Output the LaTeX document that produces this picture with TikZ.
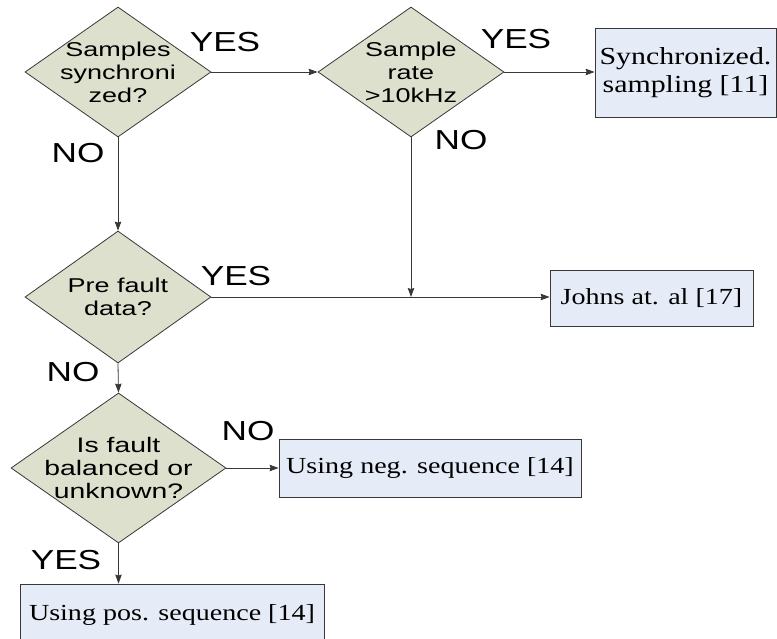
\documentclass[tikz,border=0pt]{standalone}
\usepackage{fontspec}
\usetikzlibrary{shapes.geometric,arrows.meta}
\newfontfamily\qfont{Liberation Sans}[FakeStretch=1.35]
\newfontfamily\tagfont{Liberation Sans}[FakeStretch=1.28]
\newfontfamily\refont{Liberation Serif}[FakeStretch=1.22]
\definecolor{qfill}{RGB}{221,224,204}
\definecolor{bfill}{RGB}{230,236,247}
\definecolor{edge}{RGB}{56,56,56}
\tikzset{
  decision/.style={diamond, draw=edge, line width=0.8pt, fill=qfill, inner sep=0pt, minimum width=186pt, minimum height=130pt},
  qtext/.style={align=center, inner sep=0pt, font=\qfont\fontsize{20}{23}\selectfont},
  result/.style={rectangle, draw=edge, line width=0.8pt, fill=bfill, inner sep=0pt, align=center, font=\refont\fontsize{23}{28}\selectfont},
  tag/.style={inner sep=0pt, font=\tagfont\fontsize{27.5}{30}\selectfont},
  flow/.style={draw=edge, line width=0.8pt, -{Stealth[length=9pt,width=6.5pt,inset=1pt]}}
}
\begin{document}
\begin{tikzpicture}[x=1pt,y=-1pt]
\useasboundingbox (0,0) rectangle (777,639);
\begin{scope}
\clip (0,0) rectangle (777,639);

% decisions
\node[decision] (d1) at (118,72) {};
\node[qtext] (t1) at (d1.center) {Samples\\synchroni\\zed?};
\node[decision] (d2) at (411,72) {};
\node[qtext] (t2) at (d2.center) {Sample\\rate\\>10kHz};
\node[decision, minimum height=132pt] (d3) at (118,297) {};
\node[qtext] (t3) at (d3.center) {Pre fault\\data?};
\node[decision, minimum width=215pt, minimum height=150pt] (d4) at (118.5,468) {};
\node[qtext, font=\qfont\fontsize{21}{23}\selectfont] (t4) at (d4.center) {Is fault\\balanced or\\unknown?};

% results
\node[result, minimum width=181pt, minimum height=89pt, font=\refont\fontsize{24.5}{28}\selectfont] (b1) at (685.5,72.5) {Synchronized.\\sampling [11]};
\node[result, minimum width=203pt, minimum height=56pt] (b2) at (651.5,298) {Johns at. al [17]};
\node[result, minimum width=302pt, minimum height=58pt] (b3) at (430,468) {Using neg. sequence [14]};
\node[result, minimum width=304pt, minimum height=62pt] (b4) at (172,615) {Using pos. sequence [14]};

% connectors
\coordinate (j) at (d2.south |- d3.east);
\draw[flow] (d1.east) -- (d2.west);
\draw[flow] (d2.east) -- (b1.west |- d2.east);
\draw[flow] (d1.south) -- (d3.north);
\draw[flow] (d2.south) -- (j);
\draw[flow] (d3.east) -- (b2.west |- d3.east);
\draw[flow] (d3.south) -- (d4.north);
\draw[flow] (d4.east) -- (b3.west);
\draw[flow] (d4.south) -- (d4.south |- b4.north);

% branch labels
\node[tag] (y1) at (225,42) {YES};
\node[tag] (y2) at (516,39) {YES};
\node[tag] (n1) at (78,153) {NO};
\node[tag] (n2) at (461,140) {NO};
\node[tag] (y3) at (236,276) {YES};
\node[tag] (n3) at (73,372) {NO};
\node[tag] (n4) at (248,431) {NO};
\node[tag] (y4) at (66,560) {YES};
\end{scope}
\end{tikzpicture}
\end{document}
